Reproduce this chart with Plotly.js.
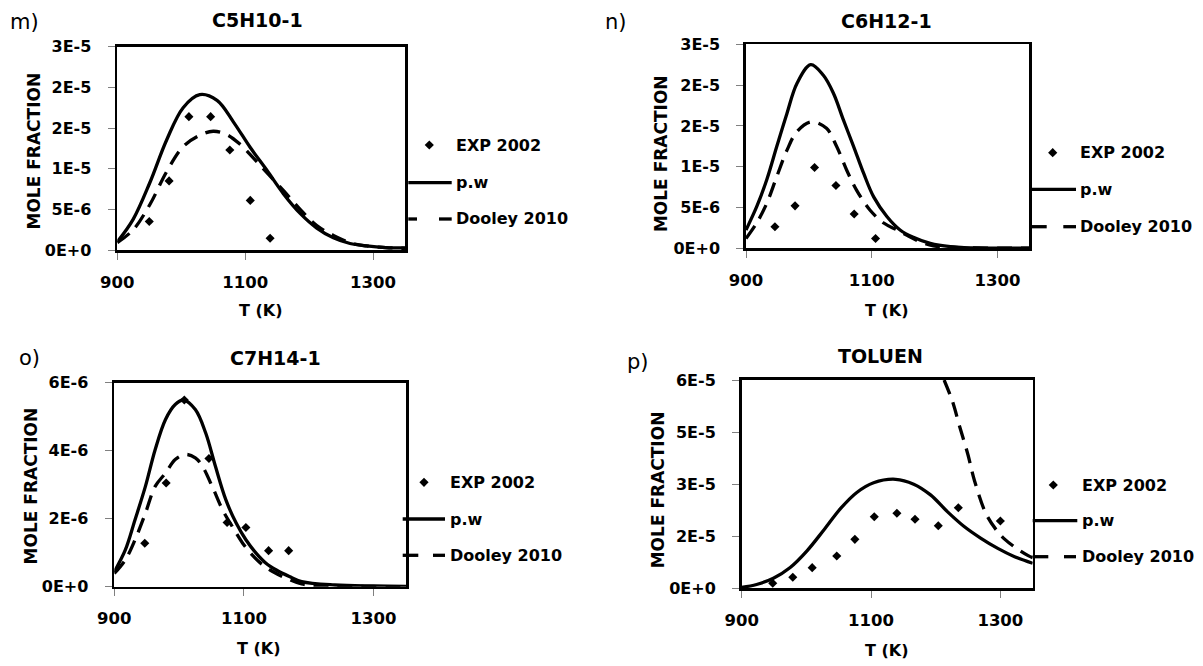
<!DOCTYPE html>
<html>
<head>
<meta charset="utf-8">
<script src="https://cdn.plot.ly/plotly-3.0.1.min.js"></script>
<style>
  html, body { margin: 0; padding: 0; background: #ffffff; }
  #chart { width: 1203px; height: 666px; }
</style>
</head>
<body>
<div id="chart"></div>
<script>
// ---- C5H10-1 ----
const T_EXP_C5 = [950, 981, 1012, 1046, 1076, 1108, 1139];
const EXP_C5   = [3.5e-6, 8.5e-6, 1.64e-5, 1.64e-5, 1.23e-5, 6.1e-6, 1.45e-6];
const T_PW_C5  = [900, 925, 951, 977, 1003, 1029, 1056, 1082, 1108, 1134, 1160, 1186, 1212, 1238, 1264, 1290, 1320, 1350];
const PW_C5    = [1.0e-6, 3.8e-6, 8.3e-6, 1.35e-5, 1.75e-5, 1.91e-5, 1.84e-5, 1.57e-5, 1.26e-5, 9.8e-6, 6.9e-6, 4.5e-6, 2.7e-6, 1.5e-6, 8e-7, 5e-7, 3e-7, 2.5e-7];
const T_DOO_C5 = [900, 925, 951, 977, 1003, 1029, 1050, 1071, 1092, 1113, 1134, 1160, 1186, 1212, 1238, 1264, 1290, 1320, 1350];
const DOO_C5   = [9e-7, 2.5e-6, 5.6e-6, 9.6e-6, 1.27e-5, 1.41e-5, 1.46e-5, 1.42e-5, 1.3e-5, 1.13e-5, 9.5e-6, 7.3e-6, 5.0e-6, 3.0e-6, 1.8e-6, 9e-7, 5e-7, 3e-7, 2e-7];

// ---- C6H12-1 ----
const T_EXP_C6 = [946, 978, 1009, 1043, 1072, 1106];
const EXP_C6   = [2.65e-6, 5.2e-6, 9.9e-6, 7.7e-6, 4.2e-6, 1.2e-6];
const T_PW_C6  = [900, 917, 933, 949, 965, 981, 1003, 1023, 1039, 1055, 1071, 1087, 1103, 1124, 1145, 1166, 1193, 1225, 1262, 1300, 1350];
const PW_C6    = [2.25e-6, 5.1e-6, 8.4e-6, 1.25e-5, 1.65e-5, 2.02e-5, 2.25e-5, 2.12e-5, 1.9e-5, 1.57e-5, 1.25e-5, 9.2e-6, 6.3e-6, 3.9e-6, 2.25e-6, 1.35e-6, 6e-7, 2e-7, 5e-8, 2e-8, 1e-8];
const T_DOO_C6 = [900, 917, 933, 949, 965, 981, 1004, 1028, 1044, 1060, 1076, 1097, 1119, 1140, 1156, 1177, 1198, 1235, 1300, 1350];
const DOO_C6   = [1.2e-6, 3.1e-6, 5.5e-6, 8.8e-6, 1.2e-5, 1.43e-5, 1.55e-5, 1.47e-5, 1.25e-5, 9.6e-6, 7.1e-6, 4.7e-6, 3.1e-6, 2.25e-6, 1.6e-6, 8e-7, 3e-7, 1e-7, 2e-8, 1e-8];

// ---- C7H14-1 ----
const T_EXP_C7 = [947, 980, 1008, 1046, 1074, 1103, 1138, 1169];
const EXP_C7   = [1.28e-6, 3.05e-6, 5.49e-6, 3.77e-6, 1.89e-6, 1.74e-6, 1.06e-6, 1.06e-6];
const T_PW_C7  = [900, 917, 932, 948, 963, 979, 994, 1007, 1025, 1041, 1056, 1072, 1088, 1103, 1119, 1134, 1150, 1170, 1189, 1240, 1300, 1350];
const PW_C7    = [4.4e-7, 1.08e-6, 1.97e-6, 2.95e-6, 4.03e-6, 4.92e-6, 5.36e-6, 5.49e-6, 5.21e-6, 4.52e-6, 3.54e-6, 2.56e-6, 1.87e-6, 1.38e-6, 9.8e-7, 6.9e-7, 4.9e-7, 3.0e-7, 1.5e-7, 5e-8, 2e-8, 1e-8];
const T_DOO_C7 = [900, 917, 932, 948, 963, 979, 994, 1010, 1025, 1036, 1051, 1067, 1082, 1098, 1113, 1129, 1145, 1165, 1189, 1215, 1260, 1350];
const DOO_C7   = [3.9e-7, 7.9e-7, 1.38e-6, 2.16e-6, 2.95e-6, 3.34e-6, 3.74e-6, 3.89e-6, 3.79e-6, 3.54e-6, 2.95e-6, 2.26e-6, 1.77e-6, 1.28e-6, 9.3e-7, 6.4e-7, 4.4e-7, 2.5e-7, 8e-8, 3e-8, 1e-8, 0];

// ---- TOLUEN ----
const T_EXP_TOL = [948, 979, 1009, 1047, 1075, 1105, 1140, 1168, 1204, 1235, 1300];
const EXP_TOL   = [1.44e-6, 3.17e-6, 5.95e-6, 9.3e-6, 1.41e-5, 2.06e-5, 2.16e-5, 1.99e-5, 1.8e-5, 2.32e-5, 1.94e-5];
const T_PW_TOL  = [900, 923, 949, 975, 1001, 1027, 1053, 1078, 1104, 1138, 1166, 1192, 1218, 1244, 1270, 1296, 1322, 1350];
const PW_TOL    = [2.9e-7, 1.1e-6, 2.9e-6, 6.0e-6, 1.08e-5, 1.68e-5, 2.3e-5, 2.76e-5, 3.04e-5, 3.14e-5, 3.0e-5, 2.69e-5, 2.21e-5, 1.78e-5, 1.44e-5, 1.15e-5, 9.1e-6, 7.2e-6];
const T_DOO_TOL = [1213, 1226, 1237, 1250, 1260, 1278, 1295, 1307, 1325, 1343, 1350];
const DOO_TOL   = [6.0e-5, 5.38e-5, 4.66e-5, 3.84e-5, 3.1e-5, 2.14e-5, 1.65e-5, 1.41e-5, 1.15e-5, 9.4e-6, 8.8e-6];

// ---- axis ticks ----
const X_RANGE = [900, 1350];
const X_TICKS = [900, 1100, 1300];
const Y_TICKS_25 = [0, 5e-6, 1e-5, 1.5e-5, 2e-5, 2.5e-5];
const Y_TEXT_25  = ['0E+0', '5E-6', '1E-5', '2E-5', '2E-5', '3E-5'];
const Y_TICKS_6  = [0, 2e-6, 4e-6, 6e-6];
const Y_TEXT_6   = ['0E+0', '2E-6', '4E-6', '6E-6'];
const Y_TICKS_60 = [0, 1.5e-5, 3e-5, 4.5e-5, 6e-5];
const Y_TEXT_60  = ['0E+0', '2E-5', '3E-5', '5E-5', '6E-5'];

const SERIES_NAMES = ['EXP 2002', 'p.w', 'Dooley 2010'];
const X_TITLE = 'T (K)';
const Y_TITLE = 'MOLE FRACTION';

// ---- page geometry (pixels) ----
const W = 1203, H = 666;
const px = x => x / W;
const py = y => 1 - y / H;
const FONT = 'DejaVu Sans';
const LINE_W = 3.3;

const panels = [
  { letter: 'm)', name: 'C5H10-1', box: [117.3, 405, 46.7, 250],
    yr: [0, 2.5e-5], yt: Y_TICKS_25, ytxt: Y_TEXT_25,
    tExp: T_EXP_C5, exp: EXP_C5, tPw: T_PW_C5, pw: PW_C5, tDoo: T_DOO_C5, doo: DOO_C5,
    titlePos: [257, 20.5], letterPos: [8, 22], yTitlePos: [33.5, 151], xTitlePos: [261, 310],
    leg: { dx: 429.3, tx: 454.3, x0: 408.3, x1: 451.7, ys: [145, 182.7, 219], dash: [[408.3, 417], [439, 451.7]] } },
  { letter: 'n)', name: 'C6H12-1', box: [746, 1029, 44.3, 248.3],
    yr: [0, 2.5e-5], yt: Y_TICKS_25, ytxt: Y_TEXT_25,
    tExp: T_EXP_C6, exp: EXP_C6, tPw: T_PW_C6, pw: PW_C6, tDoo: T_DOO_C6, doo: DOO_C6,
    titlePos: [886.7, 20.7], letterPos: [603, 22], yTitlePos: [660.8, 153.3], xTitlePos: [886.7, 310],
    leg: { dx: 1052.7, tx: 1078.3, x0: 1030, x1: 1076, ys: [152.7, 189.3, 226.7], dash: [[1030, 1046.7], [1063.3, 1076]] } },
  { letter: 'o)', name: 'C7H14-1', box: [114.3, 406, 382.7, 586.7],
    yr: [0, 6e-6], yt: Y_TICKS_6, ytxt: Y_TEXT_6,
    tExp: T_EXP_C7, exp: EXP_C7, tPw: T_PW_C7, pw: PW_C7, tDoo: T_DOO_C7, doo: DOO_C7,
    titlePos: [275, 358.3], letterPos: [16.7, 358], yTitlePos: [30.7, 485.7], xTitlePos: [259, 648.3],
    leg: { dx: 424, tx: 448.3, x0: 402.7, x1: 445, ys: [482.3, 519, 555.3], dash: [[402.7, 418.3], [433, 445]] } },
  { letter: 'p)', name: 'TOLUEN', box: [741.7, 1032.7, 380, 588.3],
    yr: [0, 6e-5], yt: Y_TICKS_60, ytxt: Y_TEXT_60,
    tExp: T_EXP_TOL, exp: EXP_TOL, tPw: T_PW_TOL, pw: PW_TOL, tDoo: T_DOO_TOL, doo: DOO_TOL,
    titlePos: [880.7, 356], letterPos: [625, 362], yTitlePos: [658.3, 490], xTitlePos: [886.7, 650],
    leg: { dx: 1053.3, tx: 1080, x0: 1032.7, x1: 1077.3, ys: [485, 520.7, 556.7], dash: [[1032.7, 1048.3], [1064, 1076]] } }
];

const boldFont = (size) => ({ family: FONT, size: size, color: '#000000', weight: 700 });

const traces = [];
const layout = {
  width: W, height: H,
  margin: { l: 0, r: 0, t: 0, b: 0, pad: 0 },
  paper_bgcolor: '#ffffff', plot_bgcolor: '#ffffff',
  showlegend: false,
  annotations: [], shapes: []
};

panels.forEach((p, i) => {
  const n = i + 1;
  const xa = 'x' + (n === 1 ? '' : n), ya = 'y' + (n === 1 ? '' : n);
  const [L, R, T, B] = p.box;

  layout['xaxis' + (n === 1 ? '' : n)] = {
    domain: [px(L), px(R)], anchor: ya, range: X_RANGE,
    tickmode: 'array', tickvals: X_TICKS,
    ticks: 'outside', ticklen: 7, tickwidth: 1, tickcolor: '#808080',
    ticklabelstandoff: 8,
    showline: true, linecolor: '#000000', linewidth: 2.7, mirror: true,
    showgrid: false, zeroline: false, fixedrange: true,
    tickfont: boldFont(16.5)
  };
  layout['yaxis' + (n === 1 ? '' : n)] = {
    domain: [py(B), py(T)], anchor: xa, range: p.yr,
    tickmode: 'array', tickvals: p.yt, ticktext: p.ytxt,
    ticks: 'outside', ticklen: 7, tickwidth: 1, tickcolor: '#808080',
    ticklabelstandoff: 13,
    showline: true, linecolor: '#000000', linewidth: 2.7, mirror: true,
    showgrid: false, zeroline: false, fixedrange: true,
    tickfont: boldFont(16)
  };

  traces.push({
    type: 'scatter', mode: 'markers', name: SERIES_NAMES[0], xaxis: xa, yaxis: ya,
    x: p.tExp, y: p.exp,
    marker: { symbol: 'diamond', size: 7, color: '#000000' }, hoverinfo: 'skip'
  });
  traces.push({
    type: 'scatter', mode: 'lines', name: SERIES_NAMES[1], xaxis: xa, yaxis: ya,
    x: p.tPw, y: p.pw,
    line: { color: '#000000', width: LINE_W, shape: 'spline', smoothing: 1 }, hoverinfo: 'skip'
  });
  traces.push({
    type: 'scatter', mode: 'lines', name: SERIES_NAMES[2], xaxis: xa, yaxis: ya,
    x: p.tDoo, y: p.doo,
    line: { color: '#000000', width: LINE_W, dash: '15px,9px', shape: 'spline', smoothing: 1 }, hoverinfo: 'skip'
  });

  // titles and labels
  layout.annotations.push({
    text: p.name, xref: 'paper', yref: 'paper', x: px(p.titlePos[0]), y: py(p.titlePos[1]),
    xanchor: 'center', yanchor: 'middle', showarrow: false, font: boldFont(19)
  });
  layout.annotations.push({
    text: p.letter, xref: 'paper', yref: 'paper', x: px(p.letterPos[0]), y: py(p.letterPos[1]),
    xanchor: 'left', yanchor: 'middle', showarrow: false,
    font: { family: FONT, size: 21, color: '#000000' }
  });
  layout.annotations.push({
    text: Y_TITLE, xref: 'paper', yref: 'paper', x: px(p.yTitlePos[0]), y: py(p.yTitlePos[1]),
    xanchor: 'center', yanchor: 'middle', textangle: -90, showarrow: false, font: boldFont(17)
  });
  layout.annotations.push({
    text: X_TITLE, xref: 'paper', yref: 'paper', x: px(p.xTitlePos[0]), y: py(p.xTitlePos[1]),
    xanchor: 'center', yanchor: 'middle', showarrow: false, font: boldFont(16)
  });

  // legend block to the right of each plot
  const lg = p.leg, r = 4.6;
  const cy = lg.ys[0];
  layout.shapes.push({
    type: 'path', xref: 'paper', yref: 'paper',
    path: `M ${px(lg.dx - r)},${py(cy)} L ${px(lg.dx)},${py(cy - r)} L ${px(lg.dx + r)},${py(cy)} L ${px(lg.dx)},${py(cy + r)} Z`,
    fillcolor: '#000000', line: { width: 0 }
  });
  layout.shapes.push({
    type: 'line', xref: 'paper', yref: 'paper',
    x0: px(lg.x0), x1: px(lg.x1), y0: py(lg.ys[1]), y1: py(lg.ys[1]),
    line: { color: '#000000', width: LINE_W }
  });
  lg.dash.forEach(seg => {
    layout.shapes.push({
      type: 'line', xref: 'paper', yref: 'paper',
      x0: px(seg[0]), x1: px(seg[1]), y0: py(lg.ys[2]), y1: py(lg.ys[2]),
      line: { color: '#000000', width: LINE_W }
    });
  });
  SERIES_NAMES.forEach((s, k) => {
    layout.annotations.push({
      text: s, xref: 'paper', yref: 'paper', x: px(lg.tx), y: py(lg.ys[k]),
      xanchor: 'left', yanchor: 'middle', showarrow: false, font: boldFont(16)
    });
  });
});

Plotly.newPlot('chart', traces, layout, { staticPlot: true, displayModeBar: false });
</script>
</body>
</html>
